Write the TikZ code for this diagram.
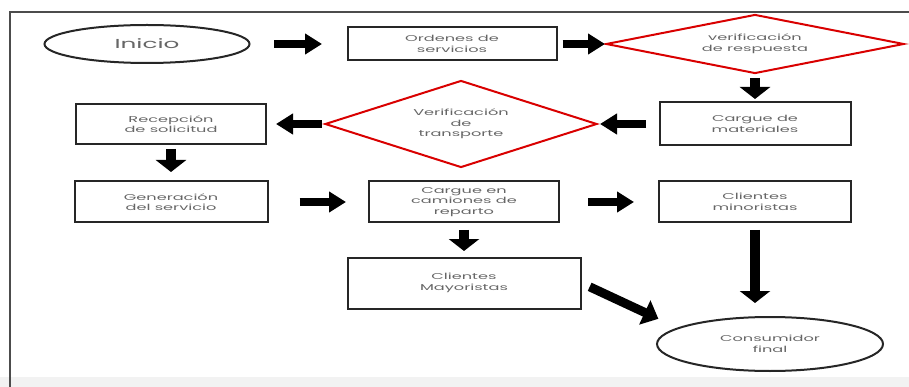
\documentclass[tikz,border=0pt]{standalone}
\usepackage{fontspec}
\setmainfont[FakeStretch=1.9]{Poppins}
\usetikzlibrary{positioning,arrows.meta,shapes.geometric}
\tikzset{
  caja/.style={draw=black!85,line width=2pt,minimum width=190pt,minimum height=41pt,
    inner sep=1pt,align=center,text=black!60,font=\fontsize{8.5}{10.5}\selectfont},
  decision/.style={diamond,draw=red!85!black,line width=2pt,inner sep=0pt,align=center,
    text=black!60,font=\fontsize{8.5}{10.5}\selectfont},
  terminal/.style={ellipse,draw=black!85,line width=2pt,inner sep=0pt,align=center,
    text=black!60,font=\fontsize{8.5}{10.5}\selectfont},
  flujo/.style={line width=8pt,-{Triangle[length=17pt,width=20pt]}},
  flujov/.style={line width=10pt,-{Triangle[length=12pt,width=30pt]}},
}

\begin{document}
\begin{tikzpicture}[x=1pt,y=-1pt,on grid]
  \useasboundingbox (0,0) rectangle (909,387);
  \fill[black!5] (0,377) rectangle (909,387);
  \draw[black!70,line width=1.2pt] (10,387) -- (10,12) -- (909,12);

  \node[terminal,minimum width=205pt,minimum height=38pt,font=\fontsize{13}{15}\selectfont] (ini) at (147,44) {Inicio};
  \node[caja,minimum width=209pt,minimum height=33pt] (ord) [right=305pt of ini] {Ordenes de\\servicios};
  \node[decision,shape aspect=5,minimum width=298pt,minimum height=59pt] (vres) [right=303pt of ord] {verificación\\de respuesta};
  \node[caja,minimum width=191pt,minimum height=43pt] (mat) [below=80pt of vres] {Cargue de\\materiales};
  \node[decision,shape aspect=3.1,minimum width=272pt,minimum height=87pt] (vtra) [left=294pt of mat] {Verificación\\de\\transporte};
  \node[caja,minimum height=40pt] (rec) [left=290pt of vtra] {Recepción\\de solicitud};
  \node[caja,minimum width=193pt] (gen) [below=78pt of rec] {Generación\\del servicio};
  \node[caja] (cam) [right=293pt of gen] {Cargue en\\camiones de\\reparto};
  \node[caja,minimum width=233pt,minimum height=51pt] (may) [below=81pt of cam] {Clientes\\Mayoristas};
  \node[caja,minimum width=192pt] (min) [below=78pt of mat] {Clientes\\minoristas};
  \node[terminal,minimum width=226pt,minimum height=54pt] (con) [below right=142pt and 15pt of min] {Consumidor\\final};

  \draw[flujo,shorten <=23.5pt,shorten >=24.5pt] (ini) -- (ord);
  \draw[flujo,shorten <=5pt] (ord) -- (vres);
  \draw[flujov,shorten <=3.5pt,shorten >=2.5pt] (vres) -- (mat);
  \draw[flujo,shorten <=12.5pt,shorten >=2pt] (mat) -- (vtra);
  \draw[flujo,shorten <=2pt,shorten >=9pt] (vtra) -- (rec);
  \draw[flujov,shorten <=4pt,shorten >=8.5pt] (rec) -- (gen);
  \draw[flujo,shorten <=31pt,shorten >=22pt] (gen) -- (cam);
  \draw[flujo,shorten <=28pt,shorten >=24pt] (cam) -- (min);
  \draw[flujov,shorten <=6.5pt,shorten >=5.5pt] (cam) -- (may);
  \draw[flujov,shorten <=6.5pt,shorten >=13pt] (min.south) -- (min.south |- con.north);
  \draw[line width=9pt,-{Triangle[length=15pt,width=26pt]},shorten <=9pt,shorten >=21pt] (may.east) -- (con.170);
\end{tikzpicture}
\end{document}
